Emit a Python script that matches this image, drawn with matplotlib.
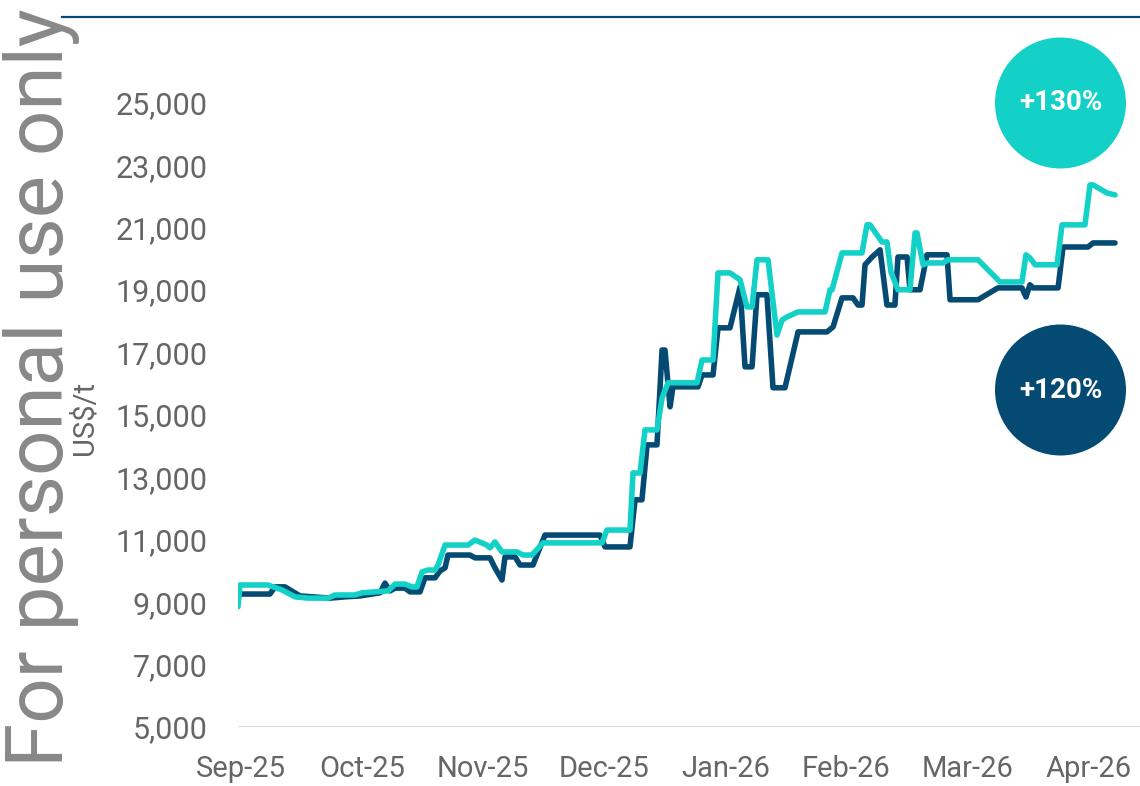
import matplotlib
matplotlib.use("Agg")
import matplotlib.pyplot as plt
from matplotlib.patches import Circle
from matplotlib.lines import Line2D

plt.rcParams['font.family'] = ['Roboto', 'DejaVu Sans']

# x positions in "months since Sep-25" (tick labels are evenly spaced)
month_labels = ["Sep-25", "Oct-25", "Nov-25", "Dec-25", "Jan-26", "Feb-26", "Mar-26", "Apr-26"]

navy_t = [-0.025, 0.239, 0.281, 0.363, 0.487, 0.735, 0.859, 0.983, 1.148, 1.189,
          1.230, 1.272, 1.354, 1.396, 1.478, 1.519, 1.602, 1.643, 1.685, 1.709,
          1.891, 1.932, 2.056, 2.097, 2.155, 2.180, 2.263, 2.304, 2.411, 2.510,
          2.964, 3.006, 3.212, 3.254, 3.311, 3.353, 3.435, 3.477, 3.501, 3.543,
          3.567, 3.774, 3.807, 3.898, 3.939, 4.038, 4.121, 4.162, 4.220, 4.261,
          4.343, 4.393, 4.492, 4.600, 4.839, 4.889, 4.963, 5.054, 5.095, 5.128,
          5.153, 5.211, 5.277, 5.334, 5.400, 5.425, 5.500, 5.524, 5.607, 5.665,
          5.830, 5.855, 6.086, 6.251, 6.449, 6.482, 6.515, 6.540, 6.747, 6.788,
          6.994, 7.036, 7.217]
navy_v = [9260, 9260, 9490, 9490, 9200, 9130, 9170, 9200, 9300, 9610,
          9360, 9450, 9450, 9330, 9330, 9780, 9780, 10000, 10100, 10510,
          10510, 10420, 10420, 10100, 9710, 10450, 10450, 10190, 10190, 11150,
          11150, 10770, 10770, 12280, 12280, 14040, 14040, 17080, 17080, 15260,
          15900, 15900, 16280, 16280, 17790, 17790, 19100, 16540, 16540, 18850,
          18850, 15870, 15870, 17660, 17660, 17820, 18750, 18750, 18520, 18520,
          19810, 20060, 20290, 18520, 18520, 20060, 20060, 19010, 19010, 20130,
          20130, 18690, 18690, 19070, 19070, 18780, 19170, 19070, 19070, 20380,
          20380, 20510, 20510]

teal_t = [-0.025, -0.008, 0.223, 0.339, 0.446, 0.553, 0.718, 0.776, 0.941, 0.999,
          1.214, 1.272, 1.354, 1.412, 1.453, 1.495, 1.544, 1.602, 1.627, 1.685,
          1.874, 1.932, 2.031, 2.056, 2.097, 2.155, 2.279, 2.329, 2.403, 2.494,
          2.981, 3.022, 3.212, 3.237, 3.295, 3.336, 3.435, 3.477, 3.526, 3.766,
          3.807, 3.898, 3.939, 4.038, 4.121, 4.178, 4.220, 4.261, 4.352, 4.426,
          4.468, 4.509, 4.600, 4.823, 4.864, 4.881, 4.963, 5.128, 5.169, 5.194,
          5.293, 5.334, 5.367, 5.425, 5.524, 5.566, 5.582, 5.632, 5.673, 5.797,
          5.838, 6.086, 6.268, 6.449, 6.482, 6.515, 6.557, 6.738, 6.780, 6.969,
          7.011, 7.036, 7.151, 7.217]
teal_v = [8850, 9550, 9550, 9390, 9170, 9130, 9130, 9230, 9230, 9300,
          9360, 9580, 9580, 9490, 9490, 9970, 10030, 10030, 10190, 10830,
          10830, 10990, 10830, 10740, 10930, 10610, 10610, 10510, 10510, 10900,
          10900, 11310, 11310, 13140, 13140, 14520, 14520, 15540, 16030, 16030,
          16760, 16760, 19550, 19550, 19330, 18460, 18460, 19970, 19970, 17560,
          18040, 18140, 18300, 18300, 19010, 19010, 20190, 20190, 21090, 21090,
          20540, 20540, 19580, 19010, 19010, 20830, 20830, 19810, 19870, 19870,
          19970, 19970, 19260, 19260, 20130, 20030, 19810, 19810, 21090, 21090,
          22370, 22370, 22110, 22050]

y_ticks = [5000, 7000, 9000, 11000, 13000, 15000, 17000, 19000, 21000, 23000, 25000]
badge_labels = ["+130%", "+120%"]

NAVY = "#054A72"
TEAL = "#14D1C8"
GRAY = "#666666"

W, H = 1140, 786
fig = plt.figure(figsize=(W / 100, H / 100), dpi=100)
ax = fig.add_axes([238 / W, 59 / H, (W - 238) / W, (727 - 40.4) / H])

ax.plot(navy_t, navy_v, color=NAVY, lw=4.0, solid_joinstyle='round', solid_capstyle='round', zorder=3)
ax.plot(teal_t, teal_v, color=TEAL, lw=4.0, solid_joinstyle='round', solid_capstyle='round', zorder=4)

ax.set_xlim((238 - 241) / 121.1, (1140 - 241) / 121.1)
ax.set_ylim(5000, 27000)
ax.set_yticks(y_ticks)
ax.set_yticklabels([f"{v:,}" for v in y_ticks])
ax.set_xticks(range(len(month_labels)))
ax.set_xticklabels(month_labels)
ax.tick_params(axis='both', length=0, labelcolor=GRAY)
ax.tick_params(axis='y', pad=22, labelsize=22)
ax.tick_params(axis='x', pad=20, labelsize=21)
for s in ax.spines.values():
    s.set_visible(False)
ax.axhline(5000, color="#d9d9d9", lw=1.5, zorder=1)
ax.set_ylabel("US$/t", fontsize=21, color=GRAY)
ax.yaxis.set_label_coords(-0.155, 0.45)

# top rule
fig.add_artist(Line2D([62 / W, 1.0], [1 - 17 / H, 1 - 17 / H], transform=fig.transFigure,
                      color=NAVY, lw=1.6))

# badges
for (cx, cy), col, lab in [((1060.5, 103), TEAL, badge_labels[0]), ((1060.5, 390), NAVY, badge_labels[1])]:
    c = Circle((cx / 100, (H - cy) / 100), 0.655, transform=fig.dpi_scale_trans,
               facecolor=col, edgecolor='none', zorder=10)
    fig.add_artist(c)
    fig.text(cx / W, 1 - cy / H, lab, ha='center', va='center', color='white',
             fontsize=20, fontweight='bold', zorder=11)

# watermark
fig.text(42 / W, 1 - 388 / H, "For personal use only", rotation=90, ha='center', va='center',
         fontsize=57.5, color="#888888", zorder=20)

fig.savefig("out.png", dpi=100)
